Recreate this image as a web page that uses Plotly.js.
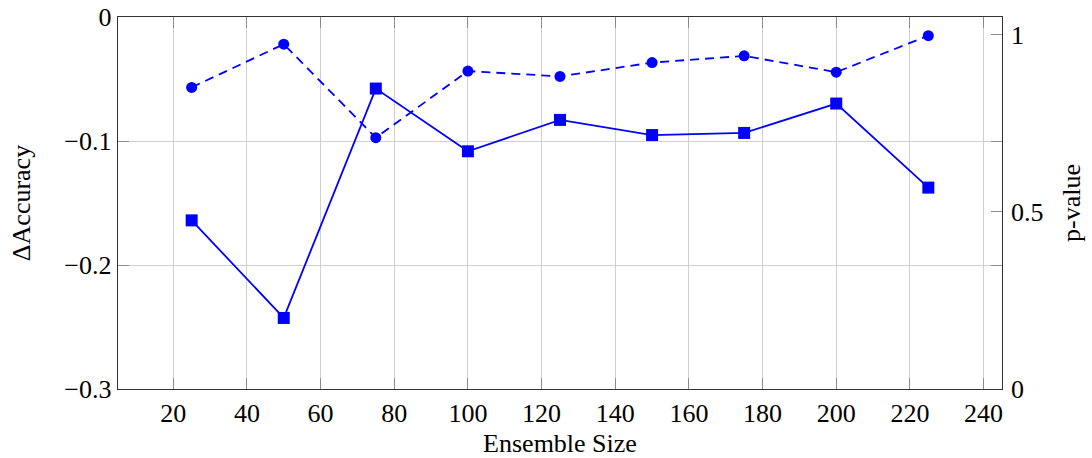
<!DOCTYPE html>
<html>
<head>
<meta charset="utf-8">
<script src="https://cdn.plot.ly/plotly-3.0.1.min.js"></script>
<style>html,body{margin:0;padding:0;background:#fff;}#chart{width:1092px;height:458px;}</style>
</head>
<body>
<div id="chart"></div>
<script>
const ensembleSize = [25, 50, 75, 100, 125, 150, 175, 200, 225];
const deltaAccuracy = [-0.164, -0.2427, -0.0577, -0.1083, -0.083, -0.0952, -0.0935, -0.0698, -0.1376];
const pValue = [0.852, 0.974, 0.710, 0.898, 0.883, 0.922, 0.941, 0.895, 0.998];
const xTicks = [20, 40, 60, 80, 100, 120, 140, 160, 180, 200, 220, 240];
const yTicks = [0, -0.1, -0.2, -0.3];
const yTickText = ["0", "\u22120.1", "\u22120.2", "\u22120.3"];
const y2Ticks = [0, 0.5, 1];
const y2TickText = ["0", "0.5", "1"];

const fontFam = "Liberation Serif";
const blue = "#0000ff";

const traces = [
  {
    x: ensembleSize, y: deltaAccuracy, type: "scatter", mode: "lines+markers",
    line: {color: blue, width: 1.8},
    marker: {symbol: "square", size: 12, color: blue},
    yaxis: "y", showlegend: false
  },
  {
    x: ensembleSize, y: pValue, type: "scatter", mode: "lines+markers",
    line: {color: blue, width: 1.8, dash: "9px,6px"},
    marker: {symbol: "circle", size: 11, color: blue},
    yaxis: "y2", showlegend: false
  }
];

const layout = {
  width: 1092, height: 458,
  margin: {l: 118, r: 90, t: 17, b: 69, pad: 0},
  paper_bgcolor: "#fff", plot_bgcolor: "#fff",
  font: {family: fontFam, size: 26, color: "#000"},
  xaxis: {
    range: [5, 245], tickvals: xTicks, ticktext: xTicks.map(String),
    showgrid: true, gridcolor: "#d0d0d0", gridwidth: 1,
    zeroline: false, showline: true, linecolor: "#333", linewidth: 1.3, mirror: "ticks",
    ticks: "inside", ticklen: 11, tickcolor: "#8a8a8a", tickwidth: 1,
    tickfont: {family: fontFam, size: 26},
    title: {text: "Ensemble Size", font: {family: fontFam, size: 26}, standoff: 8}
  },
  yaxis: {
    range: [-0.3, 0], tickvals: yTicks, ticktext: yTickText,
    showgrid: true, gridcolor: "#d0d0d0", gridwidth: 1,
    zeroline: false, showline: true, linecolor: "#333", linewidth: 1.3, mirror: "ticks",
    ticks: "inside", ticklen: 11, tickcolor: "#8a8a8a", tickwidth: 1,
    tickfont: {family: fontFam, size: 26},
    title: {text: "\u0394Accuracy", font: {family: fontFam, size: 26}, standoff: 26}
  },
  yaxis2: {
    range: [0, 1.0508], tickvals: y2Ticks, ticktext: y2TickText,
    overlaying: "y", side: "right",
    showgrid: false, zeroline: false, showline: false,
    ticks: "inside", ticklen: 11, tickcolor: "#8a8a8a", tickwidth: 1,
    tickfont: {family: fontFam, size: 26}, ticklabelstandoff: 8,
    title: {text: "p-value", font: {family: fontFam, size: 26}, standoff: 19}
  },
  showlegend: false
};

Plotly.newPlot("chart", traces, layout, {displayModeBar: false, staticPlot: true});
</script>
</body>
</html>
